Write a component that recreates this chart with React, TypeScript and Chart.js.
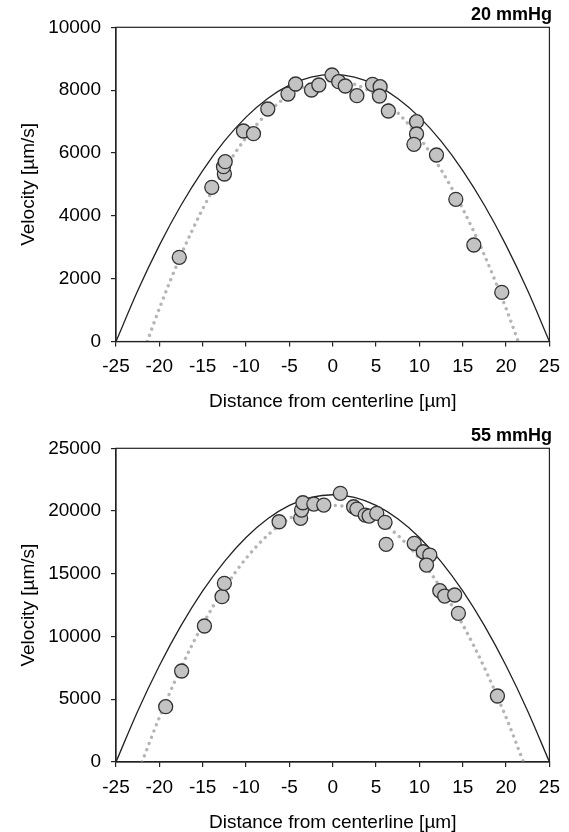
import React, { useEffect, useRef } from 'react';
import { Chart, registerables } from 'chart.js';

Chart.register(...registerables);

// ---------- data ----------
const xTickValues = [-25, -20, -15, -10, -5, 0, 5, 10, 15, 20, 25];

// 20 mmHg
const top20X = [-17.7, -13.95, -12.5, -12.6, -12.4, -10.3, -9.14, -7.49, -5.16, -4.28, -2.45, -1.6, -0.08, 0.69, 1.45, 2.79, 4.59, 5.47, 5.39, 6.42, 9.67, 9.67, 9.37, 11.97, 14.2, 16.28, 19.5];
const top20V = [2680, 4907, 5331, 5563, 5722, 6700, 6614, 7400, 7877, 8195, 8005, 8164, 8482, 8270, 8132, 7823, 8186, 8110, 7813, 7336, 6996, 6604, 6276, 5936, 4526, 3071, 1566];
const solid20X = [-25, -22.5, -20, -17.5, -15, -12.5, -10, -7.5, -5, -2.5, 0, 2.5, 5, 7.5, 10, 12.5, 15, 17.5, 20, 22.5, 25];
const solid20V = [0, 1615, 3060, 4335, 5440, 6375, 7140, 7735, 8160, 8415, 8500, 8415, 8160, 7735, 7140, 6375, 5440, 4335, 3060, 1615, 0];
const dotted20X = [-21.4, -20, -17.5, -15, -12.5, -10, -7.5, -5, -2.5, 0, 2.5, 5, 7.5, 10, 12.5, 15, 17.5, 20, 21.4];
const dotted20V = [0, 1050, 2750, 4222, 5468, 6487, 7281, 7847, 8187, 8300, 8187, 7847, 7281, 6487, 5468, 4222, 2750, 1050, 0];

// 55 mmHg
const top55X = [-19.27, -17.43, -14.8, -12.77, -12.5, -6.19, -3.7, -3.59, -3.44, -2.18, -1.03, 0.88, 2.41, 2.79, 3.75, 4.2, 5.08, 6.04, 6.16, 9.4, 10.44, 11.2, 10.82, 12.35, 12.92, 14.07, 14.5, 19.0];
const top55V = [4406, 7251, 10837, 13173, 14240, 19147, 19418, 20080, 20661, 20558, 20478, 21410, 20343, 20159, 19681, 19602, 19817, 19099, 17347, 17426, 16757, 16494, 15697, 13650, 13227, 13307, 11849, 5259];
const solid55X = [-25, -22.5, -20, -17.5, -15, -12.5, -10, -7.5, -5, -2.5, 0, 2.5, 5, 7.5, 10, 12.5, 15, 17.5, 20, 22.5, 25];
const solid55V = [0, 4047, 7668, 10863, 13632, 15975, 17892, 19383, 20448, 21087, 21300, 21087, 20448, 19383, 17892, 15975, 13632, 10863, 7668, 4047, 0];
const dotted55X = [-22, -20, -17.5, -15, -12.5, -10, -7.5, -5, -2.5, 0, 2.5, 5, 7.5, 10, 12.5, 15, 17.5, 20, 22];
const dotted55V = [0, 3550, 7509, 10943, 13849, 16225, 18074, 19394, 20186, 20450, 20186, 19394, 18074, 16225, 13849, 10943, 7509, 3550, 0];

// ---------- chart ----------
const FONT = '"Liberation Sans", Arial, sans-serif';
const FS = 19;

const framePlugin = {
  id: 'frame',
  afterDatasetsDraw(chart: any) {
    const { ctx, chartArea: a } = chart;
    ctx.save();
    ctx.strokeStyle = '#222';
    ctx.lineWidth = 1.2;
    ctx.strokeRect(a.left, a.top, a.right - a.left, a.bottom - a.top);
    ctx.restore();
  },
};

const toPts = (xs: number[], ys: number[]) => xs.map((x, i) => ({ x, y: ys[i] }));

type Props = {
  title: string;
  px: number[]; pv: number[];
  sx: number[]; sv: number[];
  dx: number[]; dv: number[];
  yMax: number; yStep: number;
  top: number; height: number;
  padTop: number; titlePadTop: number; titlePadBottom: number;
  xAxisHeight: number; xTitlePadBottom: number;
};

function ProfileChart(p: Props) {
  const ref = useRef<HTMLCanvasElement | null>(null);
  useEffect(() => {
    if (!ref.current) return;
    const chart = new Chart(ref.current, {
      type: 'scatter',
      data: {
        datasets: [
          {
            data: toPts(p.px, p.pv),
            pointRadius: 7,
            pointBackgroundColor: '#c3c3c3',
            pointBorderColor: '#333',
            pointBorderWidth: 1.3,
            order: 0,
          },
          {
            data: toPts(p.sx, p.sv),
            showLine: true,
            pointRadius: 0,
            borderColor: '#222',
            borderWidth: 1.3,
            cubicInterpolationMode: 'monotone',
            order: 1,
          },
          {
            data: toPts(p.dx, p.dv),
            showLine: true,
            pointRadius: 0,
            borderColor: '#b5b5b5',
            borderWidth: 3.4,
            borderDash: [0.01, 6.6],
            borderCapStyle: 'round',
            cubicInterpolationMode: 'monotone',
            order: 2,
          },
        ],
      } as any,
      options: {
        responsive: false,
        animation: false,
        devicePixelRatio: 1,
        layout: { padding: { top: p.padTop, right: 17, left: 0, bottom: 0 } },
        plugins: {
          legend: { display: false },
          tooltip: { enabled: false },
          title: {
            display: true,
            text: p.title,
            align: 'end',
            color: '#000',
            font: { family: FONT, size: 18, weight: 'bold', lineHeight: 1.2 },
            padding: { top: p.titlePadTop, bottom: p.titlePadBottom },
          },
        },
        scales: {
          x: {
            type: 'linear',
            min: -25,
            max: 25,
            afterBuildTicks: (s: any) => { s.ticks = xTickValues.map((v) => ({ value: v })); },
            afterFit: (s: any) => { s.height = p.xAxisHeight; },
            ticks: {
              color: '#000',
              font: { family: FONT, size: FS },
              padding: 9,
              maxRotation: 0,
              autoSkip: false,
              callback: (v: any) => String(v),
            },
            grid: { display: true, drawOnChartArea: false, drawTicks: true, tickLength: 5, color: '#222', lineWidth: 1.2 },
            border: { display: true, color: '#222', width: 1.2 },
            title: {
              display: true,
              text: 'Distance from centerline [µm]',
              color: '#000',
              font: { family: FONT, size: FS, lineHeight: 1.0 },
              padding: { top: 0, bottom: p.xTitlePadBottom },
            },
          },
          y: {
            type: 'linear',
            min: 0,
            max: p.yMax,
            afterFit: (s: any) => { s.width = 116; },
            ticks: {
              stepSize: p.yStep,
              color: '#000',
              font: { family: FONT, size: FS },
              padding: 10,
              callback: (v: any) => String(v),
            },
            grid: { display: true, drawOnChartArea: false, drawTicks: true, tickLength: 5, color: '#222', lineWidth: 1.2 },
            border: { display: true, color: '#222', width: 1.2 },
            title: {
              display: true,
              text: 'Velocity [µm/s]',
              color: '#000',
              font: { family: FONT, size: FS, lineHeight: 1.2 },
              padding: { top: 17.6, bottom: 0 },
            },
          },
        },
      } as any,
      plugins: [framePlugin],
    });
    return () => chart.destroy();
  }, []);
  return (
    <canvas
      ref={ref}
      width={569}
      height={p.height}
      style={{ position: 'absolute', left: 0, top: p.top, width: 569, height: p.height }}
    />
  );
}

export default function App() {
  return (
    <div style={{ position: 'absolute', left: 0, top: 0, width: 569, height: 832, overflow: 'hidden', background: '#fff' }}>
      <ProfileChart
        title="20 mmHg"
        px={top20X} pv={top20V}
        sx={solid20X} sv={solid20V}
        dx={dotted20X} dv={dotted20V}
        yMax={10000} yStep={2000}
        top={0} height={416}
        padTop={0} titlePadTop={4.2} titlePadBottom={1.5}
        xAxisHeight={74.5} xTitlePadBottom={4.8}
      />
      <ProfileChart
        title="55 mmHg"
        px={top55X} pv={top55V}
        sx={solid55X} sv={solid55V}
        dx={dotted55X} dv={dotted55V}
        yMax={25000} yStep={5000}
        top={416} height={416}
        padTop={5} titlePadTop={4.2} titlePadBottom={1.5}
        xAxisHeight={70} xTitlePadBottom={0}
      />
    </div>
  );
}
